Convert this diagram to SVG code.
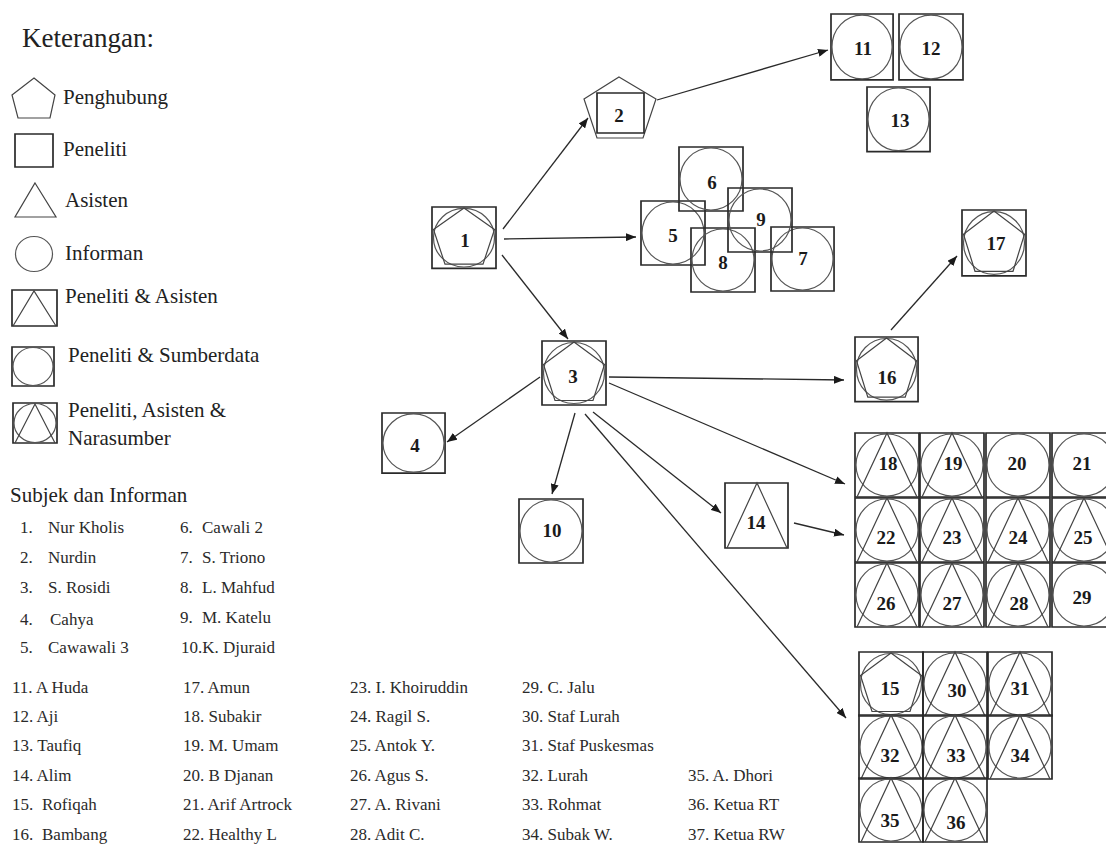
<svg xmlns="http://www.w3.org/2000/svg" xmlns:xlink="http://www.w3.org/1999/xlink" width="1106" height="849" viewBox="0 0 1106 849">
<style>
.sq{fill:none;stroke:#2a2a2a;stroke-width:1.7;vector-effect:non-scaling-stroke}
.ci{fill:none;stroke:#555;stroke-width:1.2;vector-effect:non-scaling-stroke}
.ln{fill:none;stroke:#444;stroke-width:1.2;vector-effect:non-scaling-stroke}
.lbl{font-family:"Liberation Serif",serif;font-weight:bold;font-size:19px;fill:#1a1a1a;text-anchor:middle}
.leg{font-family:"Liberation Serif",serif;font-size:21px;fill:#222}
.lst{font-family:"Liberation Serif",serif;font-size:17px;fill:#2a2a2a}
.con{fill:none;stroke:#2a2a2a;stroke-width:1.3;marker-end:url(#ah)}
</style>
<defs>
<marker id="ah" markerUnits="userSpaceOnUse" markerWidth="10" markerHeight="8" refX="10" refY="4" orient="auto">
<path d="M0,0 L10,4 L0,8 z" fill="#1a1a1a"/>
</marker>
<g id="sqc"><rect class="sq" x="0" y="0" width="64" height="64"/><circle class="ci" cx="32" cy="32" r="31"/></g>
<g id="sqct"><rect class="sq" x="0" y="0" width="64" height="64"/><circle class="ci" cx="32" cy="32" r="31"/><path class="ln" d="M2,64 L32,0 L62,64"/></g>
<g id="sqcp"><rect class="sq" x="0" y="0" width="64" height="64"/><circle class="ci" cx="32" cy="32" r="30.5"/><path class="ln" d="M32,1 L62.5,23.5 L51,59.5 L13,59.5 L1.5,23.5 Z"/></g>
</defs>

<g id="legend">
<text x="22" y="47" style="font-family:'Liberation Serif',serif;font-size:27px;fill:#222">Keterangan:</text>
<path class="ln" d="M34,78 L55,95 L50,118 L18,118 L12,95 Z"/>
<text class="leg" x="63" y="104">Penghubung</text>
<rect class="sq" x="15" y="134" width="38" height="33"/>
<text class="leg" x="63" y="156">Peneliti</text>
<path class="ln" d="M35,183 L56,217 L15,217 Z"/>
<text class="leg" x="65" y="207">Asisten</text>
<ellipse class="ci" cx="34" cy="254" rx="18.5" ry="17.5"/>
<text class="leg" x="65" y="260">Informan</text>
<rect class="sq" x="12" y="290" width="45" height="36"/>
<path class="ln" d="M13,326 L34,291 L56,326"/>
<text class="leg" x="65" y="303">Peneliti &amp; Asisten</text>
<rect class="sq" x="12" y="347" width="42" height="39"/>
<ellipse class="ci" cx="33" cy="366.5" rx="20" ry="19"/>
<text class="leg" x="68" y="362">Peneliti &amp; Sumberdata</text>
<rect class="sq" x="13" y="403" width="44" height="40"/>
<ellipse class="ci" cx="35" cy="423" rx="21" ry="19.5"/>
<path class="ln" d="M15,443 L35,404 L55,443"/>
<text class="leg" x="68" y="417">Peneliti, Asisten &amp;</text>
<text class="leg" x="68" y="445">Narasumber</text>
</g>

<g id="subject-list">
<text x="10" y="502" style="font-family:'Liberation Serif',serif;font-size:21px;fill:#222">Subjek dan Informan</text>
<text class="lst" x="20" y="533">1.</text><text class="lst" x="48" y="533">Nur Kholis</text>
<text class="lst" x="20" y="563">2.</text><text class="lst" x="48" y="563">Nurdin</text>
<text class="lst" x="20" y="593">3.</text><text class="lst" x="48" y="593">S. Rosidi</text>
<text class="lst" x="20" y="625">4.</text><text class="lst" x="50" y="625">Cahya</text>
<text class="lst" x="20" y="653">5.</text><text class="lst" x="48" y="653">Cawawali 3</text>
<text class="lst" x="180" y="533">6.</text><text class="lst" x="202" y="533">Cawali 2</text>
<text class="lst" x="180" y="563">7.</text><text class="lst" x="202" y="563">S. Triono</text>
<text class="lst" x="180" y="593">8.</text><text class="lst" x="202" y="593">L. Mahfud</text>
<text class="lst" x="180" y="623">9.</text><text class="lst" x="202" y="623">M. Katelu</text>
<text class="lst" x="181" y="653">10.K. Djuraid</text>

<text class="lst" x="12" y="693">11. A Huda</text>
<text class="lst" x="12" y="722">12. Aji</text>
<text class="lst" x="12" y="751">13. Taufiq</text>
<text class="lst" x="12" y="781">14. Alim</text>
<text class="lst" x="12" y="810">15.</text><text class="lst" x="42" y="810">Rofiqah</text>
<text class="lst" x="12" y="840">16.</text><text class="lst" x="42" y="840">Bambang</text>

<text class="lst" x="183" y="693">17. Amun</text>
<text class="lst" x="183" y="722">18. Subakir</text>
<text class="lst" x="183" y="751">19. M. Umam</text>
<text class="lst" x="183" y="781">20. B Djanan</text>
<text class="lst" x="183" y="810">21. Arif Artrock</text>
<text class="lst" x="183" y="840">22. Healthy L</text>

<text class="lst" x="350" y="693">23. I. Khoiruddin</text>
<text class="lst" x="350" y="722">24. Ragil S.</text>
<text class="lst" x="350" y="751">25. Antok Y.</text>
<text class="lst" x="350" y="781">26. Agus S.</text>
<text class="lst" x="350" y="810">27. A. Rivani</text>
<text class="lst" x="350" y="840">28. Adit C.</text>

<text class="lst" x="522" y="693">29. C. Jalu</text>
<text class="lst" x="522" y="722">30. Staf Lurah</text>
<text class="lst" x="522" y="751">31. Staf Puskesmas</text>
<text class="lst" x="522" y="781">32. Lurah</text>
<text class="lst" x="522" y="810">33. Rohmat</text>
<text class="lst" x="522" y="840">34. Subak W.</text>

<text class="lst" x="688" y="781">35. A. Dhori</text>
<text class="lst" x="688" y="810">36. Ketua RT</text>
<text class="lst" x="688" y="840">37. Ketua RW</text>
</g>

<g id="connectors">
<line class="con" x1="503" y1="229" x2="588" y2="118"/>
<line class="con" x1="504" y1="239" x2="636" y2="237"/>
<line class="con" x1="502" y1="255" x2="568" y2="339"/>
<line class="con" x1="657" y1="100" x2="828" y2="50"/>
<line class="con" x1="540" y1="377" x2="447" y2="442"/>
<line class="con" x1="575" y1="413" x2="552" y2="494"/>
<line class="con" x1="609" y1="377" x2="844" y2="380"/>
<line class="con" x1="609" y1="383" x2="845" y2="484"/>
<line class="con" x1="593" y1="412" x2="721" y2="513"/>
<line class="con" x1="585" y1="414" x2="846" y2="718"/>
<line class="con" x1="794" y1="523" x2="844" y2="535"/>
<line class="con" x1="891" y1="330" x2="957" y2="256"/>
</g>

<g id="n1"><use xlink:href="#sqcp" transform="translate(432,207) scale(1,0.96)"/><text class="lbl" x="465" y="247">1</text></g>
<g id="n2"><path class="ln" d="M619,77 L656,99 L643,138 L597,138 L584,99 Z"/><rect class="sq" x="597" y="93" width="47" height="40"/><text class="lbl" x="619" y="122">2</text></g>
<g id="n3"><use xlink:href="#sqcp" transform="translate(542,341)"/><text class="lbl" x="573" y="383">3</text></g>
<g id="n4"><use xlink:href="#sqc" transform="translate(382,413) scale(0.985,0.94)"/><text class="lbl" x="415" y="452">4</text></g>
<g id="n5"><use xlink:href="#sqc" transform="translate(641,201)"/><text class="lbl" x="673" y="242">5</text></g>
<g id="n6"><use xlink:href="#sqc" transform="translate(679,147)"/><text class="lbl" x="712" y="189">6</text></g>
<g id="n7"><use xlink:href="#sqc" transform="translate(771,227) scale(0.985,1)"/><text class="lbl" x="803" y="265">7</text></g>
<g id="n8"><use xlink:href="#sqc" transform="translate(691,228)"/><text class="lbl" x="723" y="269">8</text></g>
<g id="n9"><use xlink:href="#sqc" transform="translate(728,188)"/><text class="lbl" x="761" y="226">9</text></g>
<g id="n10"><use xlink:href="#sqc" transform="translate(519,499)"/><text class="lbl" x="552" y="537">10</text></g>
<g id="n11"><use xlink:href="#sqc" transform="translate(831,14) scale(0.97,1.03)"/><text class="lbl" x="863" y="55">11</text></g>
<g id="n12"><use xlink:href="#sqc" transform="translate(899,14) scale(1,1.03)"/><text class="lbl" x="931" y="55">12</text></g>
<g id="n13"><use xlink:href="#sqc" transform="translate(867,87) scale(0.985,1.01)"/><text class="lbl" x="900" y="127">13</text></g>
<g id="n14"><rect class="sq" x="725" y="483" width="63" height="65"/><path class="ln" d="M727,548 L757,483 L787,548"/><text class="lbl" x="756" y="529">14</text></g>
<g id="n16"><use xlink:href="#sqcp" transform="translate(855,337) scale(0.985,1.01)"/><text class="lbl" x="887" y="384">16</text></g>
<g id="n17"><use xlink:href="#sqcp" transform="translate(962,210) scale(1,1.03)"/><text class="lbl" x="996" y="250">17</text></g>

<g id="n18"><use xlink:href="#sqct" transform="translate(855,433)"/><text class="lbl" x="888" y="470">18</text></g>
<g id="n19"><use xlink:href="#sqct" transform="translate(920,433)"/><text class="lbl" x="953" y="470">19</text></g>
<g id="n20"><use xlink:href="#sqc" transform="translate(986,433)"/><text class="lbl" x="1017" y="470">20</text></g>
<g id="n21"><use xlink:href="#sqc" transform="translate(1052,433)"/><text class="lbl" x="1082" y="470">21</text></g>
<g id="n22"><use xlink:href="#sqct" transform="translate(855,498)"/><text class="lbl" x="886" y="544">22</text></g>
<g id="n23"><use xlink:href="#sqct" transform="translate(920,498)"/><text class="lbl" x="952" y="544">23</text></g>
<g id="n24"><use xlink:href="#sqct" transform="translate(986,498)"/><text class="lbl" x="1018" y="544">24</text></g>
<g id="n25"><use xlink:href="#sqct" transform="translate(1052,498)"/><text class="lbl" x="1083" y="544">25</text></g>
<g id="n26"><use xlink:href="#sqct" transform="translate(855,563)"/><text class="lbl" x="886" y="610">26</text></g>
<g id="n27"><use xlink:href="#sqct" transform="translate(920,563)"/><text class="lbl" x="952" y="610">27</text></g>
<g id="n28"><use xlink:href="#sqct" transform="translate(986,563)"/><text class="lbl" x="1019" y="610">28</text></g>
<g id="n29"><use xlink:href="#sqc" transform="translate(1052,563)"/><text class="lbl" x="1082" y="604">29</text></g>

<g id="n15"><use xlink:href="#sqcp" transform="translate(859,652)"/><text class="lbl" x="890" y="695">15</text></g>
<g id="n30"><use xlink:href="#sqct" transform="translate(923,652)"/><text class="lbl" x="957" y="697">30</text></g>
<g id="n31"><use xlink:href="#sqct" transform="translate(988,652)"/><text class="lbl" x="1020" y="695">31</text></g>
<g id="n32"><use xlink:href="#sqct" transform="translate(859,715)"/><text class="lbl" x="890" y="762">32</text></g>
<g id="n33"><use xlink:href="#sqct" transform="translate(923,715)"/><text class="lbl" x="956" y="762">33</text></g>
<g id="n34"><use xlink:href="#sqct" transform="translate(988,715)"/><text class="lbl" x="1020" y="762">34</text></g>
<g id="n35"><use xlink:href="#sqct" transform="translate(859,778)"/><text class="lbl" x="890" y="827">35</text></g>
<g id="n36"><use xlink:href="#sqct" transform="translate(923,778)"/><text class="lbl" x="956" y="829">36</text></g>
</svg>
